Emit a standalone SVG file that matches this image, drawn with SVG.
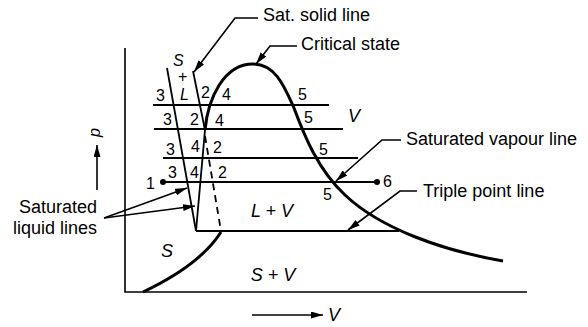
<svg xmlns="http://www.w3.org/2000/svg" width="588" height="327" viewBox="0 0 588 327">
<defs>
<marker id="ah" viewBox="0 0 12 7" refX="12" refY="3.5" markerWidth="12" markerHeight="7" orient="auto" markerUnits="userSpaceOnUse">
<path d="M0,0 L12,3.5 L0,7 z" fill="#000"/>
</marker>
</defs>
<style>
.ln{stroke:#000;fill:none;stroke-width:1.8}
.thk{stroke:#000;fill:none;stroke-width:3}
.ax{stroke:#000;fill:none;stroke-width:1.6}
.ld{stroke:#000;fill:none;stroke-width:1.6}
.lb{font-family:"Liberation Sans",Arial,sans-serif;font-size:18px;fill:#000}
.num{font-family:"Liberation Sans",Arial,sans-serif;font-size:16px;fill:#000}
.it{font-family:"Liberation Sans",Arial,sans-serif;font-style:italic;fill:#000}
</style>
<rect width="588" height="327" fill="#fff"/>
<g id="axes">
<path class="ax" d="M125,48 L125,292 L527,292"/>
<path class="ax" d="M97,190 L97,145" marker-end="url(#ah)"/>
<path class="ax" d="M252,315 L323,315" marker-end="url(#ah)"/>
<text class="it" font-size="16" transform="translate(100,137) rotate(-90)">p</text>
<text class="it" font-size="18" x="328" y="321">V</text>
</g>
<g id="curves">
<path class="thk" d="M205,130 C208,98 224,64 253,64 C276,64 285,88 294,108 C304,135 318,170 345,195 C380,228 440,250 503,261"/>
<path class="ln" stroke-width="2.4" d="M205,130 L196,231"/>
<path class="ln" d="M167,68 L196,231"/>
<path class="ln" d="M193,71 L205,130"/>
<path class="ln" stroke-width="1.4" stroke-dasharray="7,5" d="M205,136 L221,231"/>
<path class="thk" d="M221,232 Q200,265 143,292"/>
</g>
<g id="isobars">
<path class="ln" d="M153,105 L329,105"/>
<path class="ln" d="M154,129 L343,129"/>
<path class="ln" d="M163,158 L358,158"/>
<path class="ln" d="M163,182 L377,182"/>
<circle cx="163" cy="182" r="3" fill="#000"/>
<circle cx="377" cy="182" r="3" fill="#000"/>
<path class="ln" d="M196,231 L399,231"/>
</g>
<g id="connectors">
<path class="ld" d="M258,18 L235,18 L194,72" marker-end="url(#ah)"/>
<path class="ld" d="M297,46 L270,46 L256,64" marker-end="url(#ah)"/>
<path class="ld" d="M401,140 L382,140 L336,181" marker-end="url(#ah)"/>
<path class="ld" d="M417,191 L400,191 L348,230" marker-end="url(#ah)"/>
<path class="ld" d="M104,218 L187,188" marker-end="url(#ah)"/>
<path class="ld" d="M104,218 L195,206" marker-end="url(#ah)"/>
</g>
<g id="labels">
<text class="lb" x="263" y="21">Sat. solid line</text>
<text class="lb" x="301" y="50">Critical state</text>
<text class="lb" x="406" y="145">Saturated vapour line</text>
<text class="lb" x="423" y="197">Triple point line</text>
<text class="lb" x="97" y="213" text-anchor="end">Saturated</text>
<text class="lb" x="97" y="234" text-anchor="end">liquid lines</text>
</g>
<g id="regions">
<text class="it" font-size="16" x="173" y="66">S</text>
<text class="num" font-size="13" x="178" y="82">+</text>
<text class="it" font-size="16" x="180" y="100">L</text>
<text class="it" font-size="18" x="348" y="122">V</text>
<text class="it" font-size="18" x="272" y="217" text-anchor="middle">L + V</text>
<text class="it" font-size="18" x="167" y="257" text-anchor="middle">S</text>
<text class="it" font-size="18" x="273" y="281" text-anchor="middle">S + V</text>
</g>
<g id="states">
<text class="num" x="156" y="101">3</text>
<text class="num" x="201" y="98">2</text>
<text class="num" x="222" y="100">4</text>
<text class="num" x="298" y="100">5</text>
<text class="num" x="163" y="125">3</text>
<text class="num" x="190" y="125">2</text>
<text class="num" x="215" y="126">4</text>
<text class="num" x="304" y="123">5</text>
<text class="num" x="166" y="155">3</text>
<text class="num" x="191" y="152">4</text>
<text class="num" x="213" y="153">2</text>
<text class="num" x="319" y="155">5</text>
<text class="num" x="168" y="178">3</text>
<text class="num" x="190" y="178">4</text>
<text class="num" x="218" y="178">2</text>
<text class="num" x="146" y="189">1</text>
<text class="num" x="383" y="187">6</text>
<text class="num" x="323" y="200">5</text>
</g>
</svg>
